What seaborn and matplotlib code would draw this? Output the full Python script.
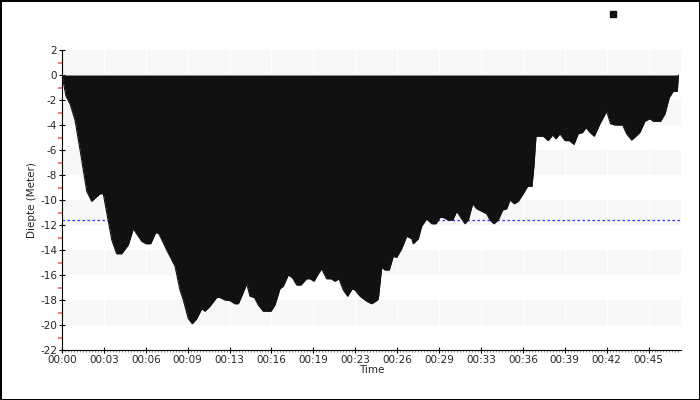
import seaborn as sns
import pandas as pd
import matplotlib.pyplot as plt
from matplotlib.lines import Line2D
from matplotlib.ticker import MultipleLocator

# dive profile: time in minutes, depth in meters
minutes = [0.00, 0.31, 0.62, 1.01, 1.40, 1.65, 1.92, 2.30, 2.95, 3.20, 3.47, 3.86, 4.24, 4.63,
           5.14, 5.53, 6.18, 6.52, 6.88, 7.27, 7.52, 8.12, 8.77, 9.15, 9.41, 9.80, 10.11, 10.45,
           10.84, 11.09, 11.48, 12.00, 12.26, 12.64, 13.03, 13.42, 13.68, 13.94, 14.33, 14.58,
           14.92, 15.23, 15.61, 16.21, 16.52, 16.91, 17.17, 17.55, 17.86, 18.21, 18.54, 18.98,
           19.24, 19.55, 19.88, 20.14, 20.53, 20.87, 21.18, 21.49, 21.82, 22.16, 22.52, 22.73,
           23.12, 23.64, 24.02, 24.41, 24.54, 24.80, 25.06, 25.39, 25.70, 25.96, 26.35, 26.74,
           27.13, 27.25, 27.64, 27.90, 28.29, 28.68, 29.01, 29.32, 29.58, 29.97, 30.31, 30.62,
           30.87, 31.26, 31.52, 31.86, 32.17, 32.56, 32.94, 33.20, 33.51, 33.84, 34.19, 34.50,
           34.75, 35.09, 35.40, 35.78, 36.12, 36.46, 36.61, 36.77, 37.34, 37.72, 38.06, 38.32,
           38.63, 39.02, 39.35, 39.72, 40.05, 40.39, 40.65, 40.96, 41.29, 41.73, 42.25, 42.56,
           42.90, 43.49, 43.80, 44.19, 44.52, 44.83, 45.22, 45.61, 45.87, 46.44, 46.78, 47.11,
           47.42, 47.73, 47.82]
depth = [0, -1.7, -2.3, -3.6, -6.0, -7.6, -9.3, -10.1, -9.5, -9.5, -11.0, -13.2, -14.3, -14.3,
         -13.6, -12.3, -13.3, -13.5, -13.5, -12.6, -12.7, -14.0, -15.3, -17.2, -18.0, -19.5, -19.9, -19.5,
         -18.7, -18.9, -18.5, -17.8, -17.8, -18.0, -18.05, -18.3, -18.3, -17.7, -16.7, -17.7,
         -17.8, -18.4, -18.9, -18.9, -18.4, -17.1, -16.9, -16.0, -16.2, -16.8, -16.8, -16.3,
         -16.3, -16.5, -15.9, -15.5, -16.3, -16.3, -16.5, -16.3, -17.2, -17.7, -17.1, -17.2,
         -17.7, -18.1, -18.3, -18.05, -17.9, -15.4, -15.6, -15.6, -14.5, -14.6, -13.9, -12.9,
         -13.1, -13.5, -13.1, -12.1, -11.5, -11.9, -11.9, -11.4, -11.4, -11.6, -11.6, -10.9,
         -11.3, -11.9, -11.6, -10.3, -10.7, -10.9, -11.1, -11.6, -11.9, -11.6, -10.8, -10.7,
         -10.0, -10.3, -10.1, -9.5, -8.9, -8.9, -7.3, -4.9, -4.9, -5.25, -4.8, -5.1,
         -4.7, -5.25, -5.25, -5.55, -4.7, -4.6, -4.2, -4.6, -4.9, -3.9, -2.9, -3.9,
         -4.0, -4.0, -4.7, -5.2, -4.9, -4.6, -3.7, -3.5, -3.7, -3.7, -3.1, -1.8,
         -1.3, -1.3, 0]
avg_depth = -11.6

tick_labels = ["00:00", "00:03", "00:06", "00:09", "00:13", "00:16", "00:19", "00:23",
               "00:26", "00:29", "00:33", "00:36", "00:39", "00:42", "00:45"]
tick_step = 3.25

df = pd.DataFrame({"minutes": minutes, "depth": depth})

sns.set_style("white")
plt.rcParams["font.family"] = ["DejaVu Sans"]
plt.rcParams["axes.unicode_minus"] = False

fig = plt.figure(figsize=(7, 4), dpi=100)
fig.patch.set_edgecolor("black")
fig.patch.set_linewidth(2)
ax = fig.add_axes([62 / 700, 50 / 400, 619 / 700, 300 / 400])

# alternating bands
for lo in range(-20, 2, 4):
    ax.axhspan(lo, lo + 2, color="#f7f7f7", zorder=0, lw=0)
ticks = [i * tick_step for i in range(len(tick_labels))]
for t in ticks[1:]:
    ax.axvline(t, color="white", lw=0.8, zorder=0.5)

# average depth line sits behind the profile
ax.axhline(avg_depth, color="#3333ff", ls=(0, (2, 2)), lw=0.9, zorder=1)
ax.fill_between(df["minutes"], 0, df["depth"], color="#111111", lw=0, zorder=2)
sns.lineplot(data=df, x="minutes", y="depth", color="#111111", lw=0.8, ax=ax, zorder=2)

ax.set_xlim(0, 48.02)
ax.set_ylim(-22, 2)
ax.set_xticks(ticks)
ax.set_xticklabels(tick_labels)
ax.xaxis.set_minor_locator(MultipleLocator(tick_step / 14))
ax.yaxis.set_major_locator(MultipleLocator(2))
ax.yaxis.set_minor_locator(MultipleLocator(1))

ax.tick_params(axis="both", which="major", direction="inout", length=5, width=0.8,
               color="black", labelsize=7.5, pad=1)
ax.tick_params(axis="x", which="minor", direction="out", length=1.5, width=0.5, color="#555555")
ax.tick_params(axis="y", which="minor", direction="out", length=3, width=1.2, color="#f06060")
ax.tick_params(axis="x", which="minor", bottom=True)
ax.tick_params(axis="y", which="minor", left=True)
ax.tick_params(axis="x", which="major", bottom=True)
ax.tick_params(axis="y", which="major", left=True)

for side in ["top", "right"]:
    ax.spines[side].set_visible(False)
for side in ["left", "bottom"]:
    ax.spines[side].set_color("black")
    ax.spines[side].set_linewidth(0.8)

ax.set_xlabel("Time", fontsize=7.5, labelpad=0)
ax.set_ylabel("Diepte (Meter)", fontsize=7.5, labelpad=2)

handle = Line2D([], [], marker="s", color="#111111", ls="", markersize=5)
fig.legend([handle], [""], loc="center", bbox_to_anchor=(613 / 700, 1 - 15 / 400),
           frameon=False, handlelength=0.6, handletextpad=0)

fig.savefig("out.png", dpi=100, edgecolor=fig.get_edgecolor(), facecolor="white")
